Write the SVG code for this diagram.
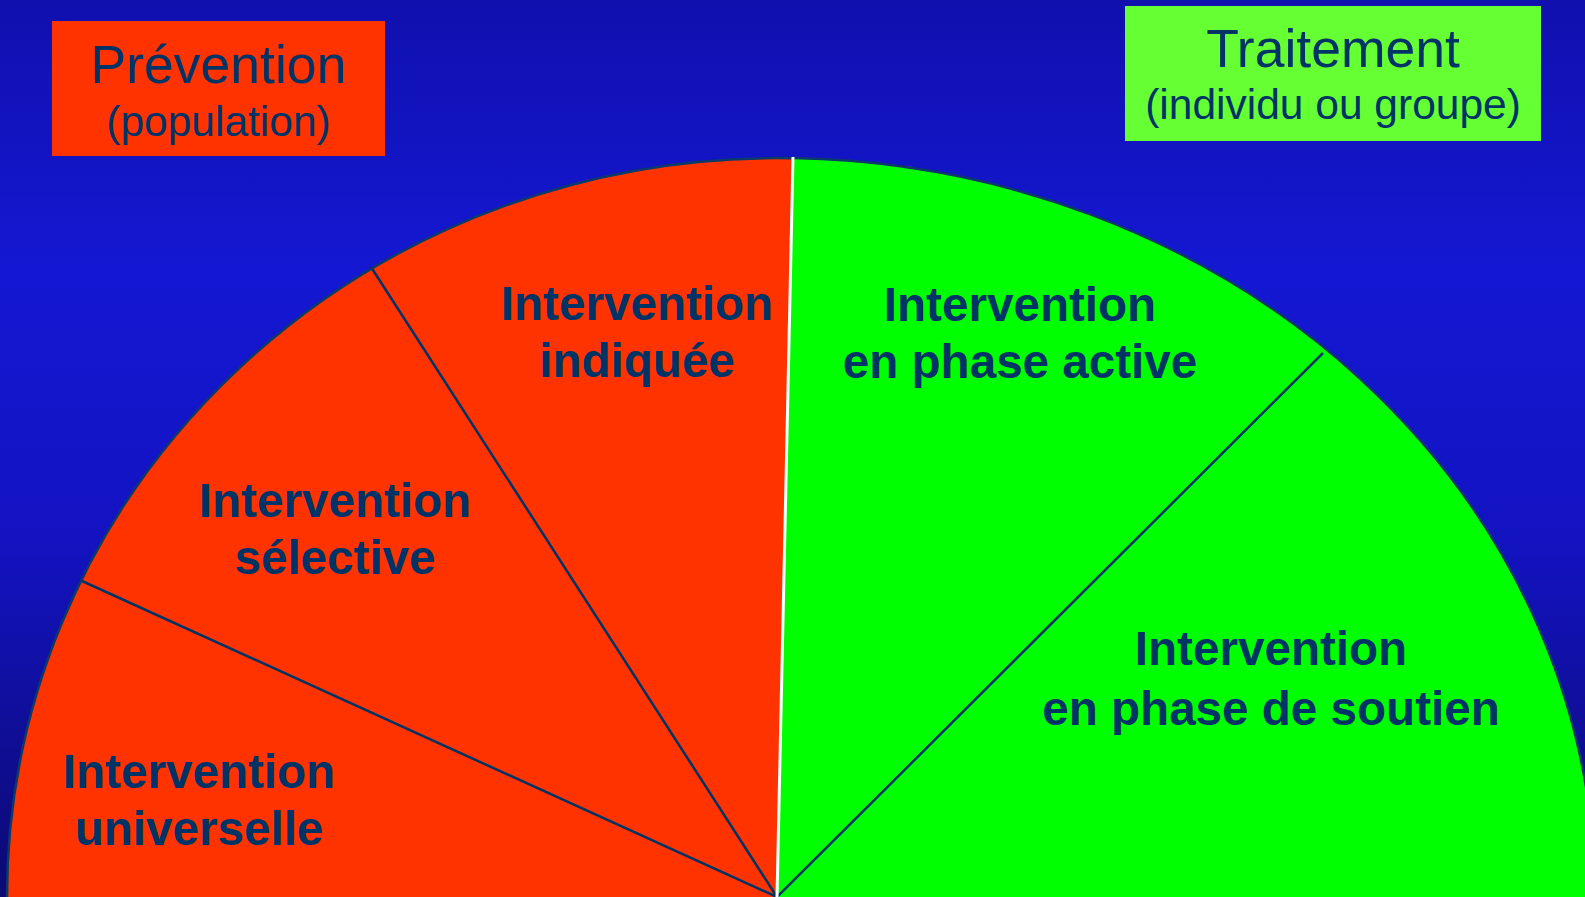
<svg xmlns="http://www.w3.org/2000/svg" width="1585" height="897" viewBox="0 0 1585 897">
  <defs>
    <linearGradient id="bg" x1="0" y1="0" x2="0" y2="1">
      <stop offset="0" stop-color="#1010AE"/>
      <stop offset="0.3" stop-color="#1418D2"/>
      <stop offset="0.6" stop-color="#1313C2"/>
      <stop offset="1" stop-color="#0C0A72"/>
    </linearGradient>
  </defs>
  <style>
    .lbl { font-family: "Liberation Sans", Arial, sans-serif; font-weight: bold; font-size: 47.6px; fill: #003366; text-anchor: middle; }
    .title { font-family: "Liberation Sans", Arial, sans-serif; font-size: 53.5px; fill: #003366; text-anchor: middle; }
    .sub { font-family: "Liberation Sans", Arial, sans-serif; font-size: 42.5px; fill: #003366; text-anchor: middle; }
    .rim { fill: none; stroke: #0A3A6A; stroke-width: 2.5; }
    .div { stroke: #003366; stroke-width: 2.5; fill: none; }
  </style>
  <rect x="0" y="0" width="1585" height="897" fill="url(#bg)"/>

  <g id="prevention-sectors">
    <path d="M777,897 L7,897 A770,739 0 0 1 793,158.2 Z" fill="#FF3300"/>
    <path class="rim" d="M7,897 A770,739 0 0 1 793,158.2"/>
  </g>
  <g id="treatment-sectors">
    <path d="M777,897 L793,158.1 A818,739 0 0 1 1595,897 Z" fill="#00FF00"/>
    <path class="rim" d="M793,158.1 A818,739 0 0 1 1595,897"/>
  </g>

  <g id="connectors">
    <line class="div" x1="777" y1="897" x2="82" y2="581"/>
    <line class="div" x1="777" y1="897" x2="371" y2="267"/>
    <line class="div" x1="777" y1="897" x2="1323" y2="353"/>
    <line x1="777" y1="897" x2="793" y2="157" stroke="#FFFFFF" stroke-width="3"/>
  </g>

  <g id="node-universelle">
    <text class="lbl" x="199" y="788">Intervention</text>
    <text class="lbl" x="199" y="845">universelle</text>
  </g>
  <g id="node-selective">
    <text class="lbl" x="335" y="517">Intervention</text>
    <text class="lbl" x="335" y="574">sélective</text>
  </g>
  <g id="node-indiquee">
    <text class="lbl" x="637" y="320">Intervention</text>
    <text class="lbl" x="637" y="377">indiquée</text>
  </g>
  <g id="node-phase-active">
    <text class="lbl" x="1020" y="321">Intervention</text>
    <text class="lbl" x="1020" y="378">en phase active</text>
  </g>
  <g id="node-phase-soutien">
    <text class="lbl" x="1271" y="665">Intervention</text>
    <text class="lbl" x="1271" y="725">en phase de soutien</text>
  </g>

  <g id="node-prevention">
    <rect x="52" y="21" width="333" height="135" fill="#FF3300"/>
    <text class="title" x="218.5" y="83">Prévention</text>
    <text class="sub" x="218.5" y="136">(population)</text>
  </g>
  <g id="node-traitement">
    <rect x="1125" y="6" width="416" height="135" fill="#66FF33"/>
    <text class="title" x="1333" y="67">Traitement</text>
    <text class="sub" x="1333" y="119">(individu ou groupe)</text>
  </g>
</svg>
